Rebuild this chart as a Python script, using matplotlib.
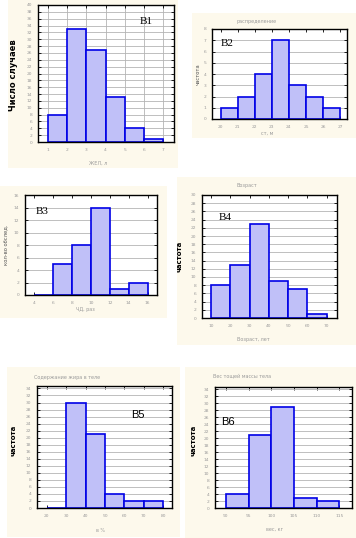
import matplotlib.pyplot as plt
from matplotlib.patches import Rectangle

# ---- data ----
b1_edges = [1, 2, 3, 4, 5, 6, 7]
b1_counts = [8, 33, 27, 13, 4, 1]

b2_ticklabels = ["20", "21", "22", "23", "24", "25", "26", "27"]
b2_counts = [1, 2, 4, 7, 3, 2, 1]

b3_edges = [4, 6, 8, 10, 12, 14, 16]
b3_counts = [0, 5, 8, 14, 1, 2]

b4_edges = [10, 20, 30, 40, 50, 60, 70]
b4_counts = [8, 13, 23, 9, 7, 1]

b5_edges = [20, 30, 40, 50, 60, 70, 80]
b5_counts = [0, 30, 21, 4, 2, 2]

b6_edges = [90, 95, 100, 105, 110, 115]
b6_counts = [4, 21, 29, 3, 2]

W, H = 356, 538
CREAM = "#fdf9ec"
BAR = "#c0c0f8"
EDGE = "#0000e6"
TICKC = "#9a9a9a"

fig = plt.figure(figsize=(W / 100, H / 100), dpi=100)
fig.patch.set_facecolor("white")


def box(x0, y0, x1, y1):
    return [x0 / W, 1 - y1 / H, (x1 - x0) / W, (y1 - y0) / H]


def cream(x0, y0, x1, y1):
    fig.patches.append(Rectangle((x0 / W, 1 - y1 / H), (x1 - x0) / W, (y1 - y0) / H,
                                 transform=fig.transFigure, facecolor=CREAM,
                                 edgecolor="none", zorder=-5))


def txt(x, y, s, **kw):
    fig.text(x / W, 1 - y / H, s, **kw)


def hist_panel(rect, edges, counts, ylim, ystep, xlim, xlabels=None, vgrid=False):
    ax = fig.add_axes(box(*rect))
    widths = [edges[i + 1] - edges[i] for i in range(len(counts))]
    ax.bar(edges[:-1], counts, width=widths, align="edge", color=BAR,
           edgecolor=EDGE, linewidth=1.2, zorder=3)
    ax.set_xlim(*xlim)
    ax.set_ylim(*ylim)
    ax.set_yticks(range(0, int(ylim[1]) + 1, ystep))
    ax.set_xticks(edges)
    if xlabels is not None:
        ax.set_xticklabels(xlabels)
    ax.grid(axis="y", color="#b4b4b4", linewidth=0.6, zorder=0)
    if vgrid:
        ax.grid(axis="x", color="#b4b4b4", linewidth=0.6, zorder=0)
    ax.tick_params(direction="in", length=2, width=0.6, labelsize=3.2,
                   labelcolor=TICKC, top=True, right=True, pad=4)
    for s in ax.spines.values():
        s.set_linewidth(1.0)
        s.set_zorder(4)
    ax.set_facecolor("white")
    return ax


# ---- B1 ----
cream(8, 0, 178, 168)
hist_panel((38, 5, 174, 142), b1_edges, b1_counts, (0, 40), 2, (0.5, 7.55), vgrid=True)
txt(14, 75, "Число случаев", rotation=90, ha="center", va="center",
    fontsize=6, fontweight="bold", family="DejaVu Sans")
txt(98, 163, "ЖЕЛ, л", ha="center", va="center", fontsize=3.5, color=TICKC)
txt(146, 21, "В1", ha="center", va="center", fontsize=8, family="Liberation Serif")

# ---- B2 ----
cream(192, 13, 356, 138)
hist_panel((212, 29, 347, 119), list(range(8)), b2_counts, (0, 8), 1, (-0.5, 7.4),
           xlabels=b2_ticklabels)
txt(257, 21, "распределение", ha="center", va="center", fontsize=3.5, color=TICKC)
txt(198, 74, "частота", rotation=90, ha="center", va="center", fontsize=3.8, color="#555555")
txt(267, 133, "ст, м", ha="center", va="center", fontsize=3.5, color=TICKC)
txt(227, 43, "В2", ha="center", va="center", fontsize=8, family="Liberation Serif")

# ---- B3 ----
cream(0, 186, 167, 318)
hist_panel((25, 195, 157, 295), b3_edges, b3_counts, (0, 16), 2, (3.0, 17.0))
txt(7, 245, "кол-во обслед.", rotation=90, ha="center", va="center", fontsize=3.8, color="#555555")
txt(85, 310, "ЧД, раз", ha="center", va="center", fontsize=3.5, color=TICKC)
txt(42, 211, "В3", ha="center", va="center", fontsize=8, family="Liberation Serif")

# ---- B4 ----
cream(177, 177, 356, 345)
hist_panel((202, 195, 337, 318), b4_edges, b4_counts, (0, 30), 2, (5.3, 75.3))
txt(247, 186, "Возраст", ha="center", va="center", fontsize=3.5, color=TICKC)
txt(180, 256, "частота", rotation=90, ha="center", va="center", fontsize=5, fontweight="bold")
txt(253, 339, "Возраст, лет", ha="center", va="center", fontsize=3.5, color=TICKC)
txt(225, 218, "В4", ha="center", va="center", fontsize=8, family="Liberation Serif")

# ---- B5 ----
cream(7, 367, 180, 537)
hist_panel((37, 386, 172, 508), b5_edges, b5_counts, (0, 34.7), 2, (15.0, 84.5))
txt(67, 377, "Содержание жира в теле", ha="center", va="center", fontsize=3.5, color=TICKC)
txt(14, 440, "частота", rotation=90, ha="center", va="center", fontsize=5, fontweight="bold")
txt(100, 531, "в %", ha="center", va="center", fontsize=3.5, color=TICKC)
txt(138, 415, "В5", ha="center", va="center", fontsize=8, family="Liberation Sans")

# ---- B6 ----
cream(185, 367, 356, 538)
hist_panel((215, 387, 352, 508), b6_edges, b6_counts, (0, 34.7), 2, (87.6, 117.8))
txt(242, 376, "Вес тощей массы тела", ha="center", va="center", fontsize=3.5, color=TICKC)
txt(193, 440, "частота", rotation=90, ha="center", va="center", fontsize=5, fontweight="bold")
txt(275, 529, "вес, кг", ha="center", va="center", fontsize=3.5, color=TICKC)
txt(228, 422, "В6", ha="center", va="center", fontsize=8, family="Liberation Sans")

fig.savefig("out.png", dpi=100)
